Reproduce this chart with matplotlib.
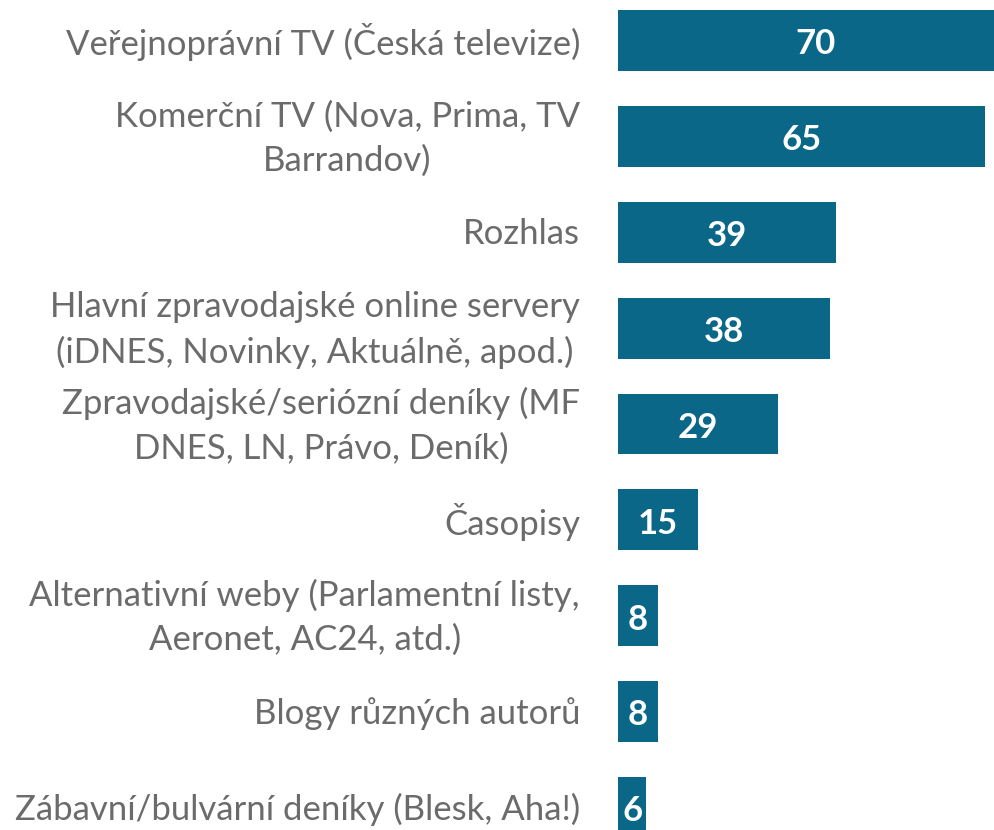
import matplotlib
matplotlib.use("Agg")
import matplotlib.pyplot as plt

## Chart data
categories = [
    "Veřejnoprávní TV (Česká televize)",
    "Komerční TV (Nova, Prima, TV\nBarrandov)",
    "Rozhlas",
    "Hlavní zpravodajské online servery\n(iDNES, Novinky, Aktuálně, apod.)",
    "Zpravodajské/seriózní deníky (MF\nDNES, LN, Právo, Deník)",
    "Časopisy",
    "Alternativní weby (Parlamentní listy,\nAeronet, AC24, atd.)",
    "Blogy různých autorů",
    "Zábavní/bulvární deníky (Blesk, Aha!)",
]
values = [70, 65, 39, 38, 29, 15, 8, 8, 6]

bar_color = "#0b6787"
text_color = "#6b6b6b"
x_left, x_right = 1.05, 66.56

fig = plt.figure(figsize=(9.94, 8.3), dpi=100)
ax = fig.add_axes([618 / 994, 0, 376 / 994, 1])

pos = list(range(len(values)))
ax.barh(pos, values, height=0.636, color=bar_color)
ax.set_xlim(x_left, x_right)
ax.set_ylim(8.2347, -0.4224)
ax.axis("off")

# category labels to the left of the bars
for p, cat in zip(pos, categories):
    ax.text(x_left - 6.6, p + 0.02, cat, ha="right", va="center", multialignment="center",
            fontsize=25, color=text_color, family="Lato", linespacing=1.45,
            clip_on=False)

# value labels in the middle of the visible bar
for p, v in zip(pos, values):
    ax.text((x_left + v) / 2, p + 0.04, str(v), ha="center", va="center",
            fontsize=25, color="white", fontweight="bold", family="Lato", clip_on=False)

fig.savefig("out.png", dpi=100)
